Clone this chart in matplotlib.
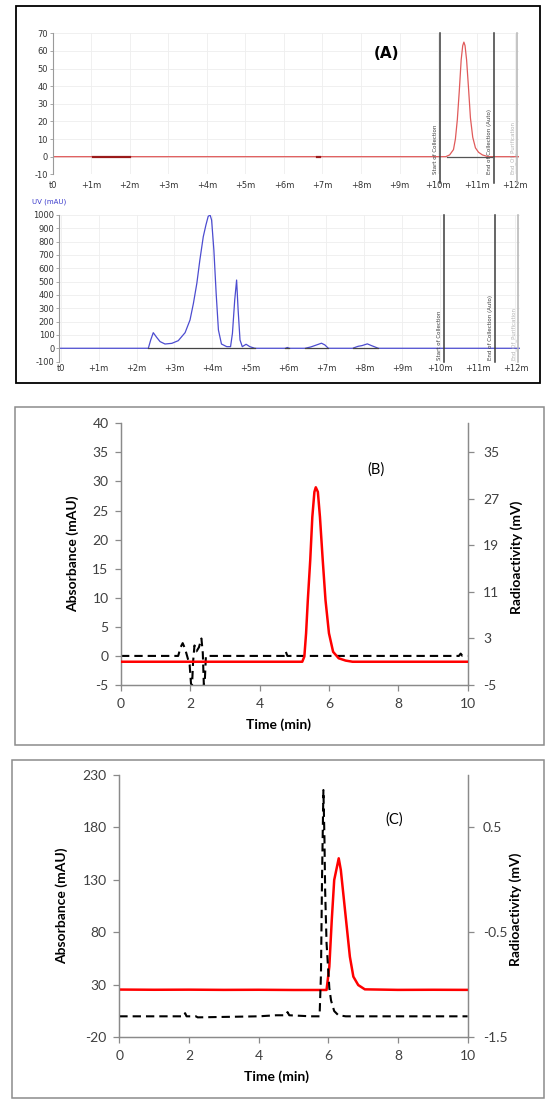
import matplotlib
matplotlib.use("Agg")
import matplotlib.pyplot as plt
from matplotlib.patches import Rectangle

plt.rcParams["axes.unicode_minus"] = False

W, H = 550, 1108

# ---------------- panel A (instrument screenshot) ----------------
minute_labels = ["t0"] + ["+%dm" % m for m in range(1, 13)]

# radio trace (top)
radio_a_t = [0, 10.20, 10.30, 10.40, 10.45, 10.50, 10.55, 10.60, 10.64, 10.67,
             10.70, 10.74, 10.79, 10.84, 10.90, 10.97, 11.05, 11.15, 11.30, 12.10]
radio_a_v = [0, 0, 1, 4, 10, 21, 37, 55, 63, 65,
             63, 55, 39, 22, 11, 5, 2.5, 1, 0, 0]
radio_a_base = [[10.22, 11.40]]
radio_a_marks = [[1.05, 2.0], [6.86, 6.94]]

# UV trace (bottom)
uv_t = [-0.04, 2.31, 2.37, 2.44, 2.53, 2.62, 2.75, 2.93, 3.10, 3.28, 3.41, 3.50,
        3.59, 3.67, 3.76, 3.83, 3.89, 3.94, 3.98, 4.04, 4.10, 4.16, 4.24, 4.38,
        4.48, 4.53, 4.59, 4.64, 4.68, 4.73, 4.79, 4.89, 4.99, 5.12, 5.93, 5.98,
        6.03, 6.45, 6.60, 6.75, 6.88, 6.97, 7.06, 7.70, 7.85, 7.95, 8.09, 8.20,
        8.38, 12.12]
uv_v = [0, 0, 60, 117, 82, 50, 32, 37, 57, 117, 212, 337,
        487, 662, 837, 925, 990, 1000, 962, 737, 412, 137, 32, 12,
        12, 112, 362, 512, 287, 62, 12, 30, 12, 0, 0, 6,
        0, 0, 10, 25, 38, 25, 0, 0, 15, 20, 33, 20,
        0, 0]
uv_base = [[2.31, 5.12], [5.93, 6.03], [6.45, 7.06], [7.70, 8.38]]

mark_names = ["Start of Collection", "End of Collection (Auto)", "End_Of_Purification"]
mark_colors = ["#3c3c3c", "#3c3c3c", "#b4b4b4"]
mark_t_top = [10.04, 11.46, 12.05]
mark_t_bottom = [10.11, 11.46, 12.07]

# ---------------- panel B ----------------
abs_b_t = [0, 5.23, 5.29, 5.34, 5.39, 5.46, 5.52, 5.58, 5.62, 5.68, 5.74, 5.82,
           5.90, 6.00, 6.12, 6.28, 6.48, 6.68, 10]
abs_b_v = [-1.0, -1.0, -0.1, 3.9, 9.6, 16.5, 23.9, 28.2, 29.0, 28.2, 23.9, 16.5,
           9.6, 3.9, 0.7, -0.4, -0.8, -1.0, -1.0]
rad_b_t = [0, 1.65, 1.72, 1.78, 1.85, 1.93, 1.98, 2.02, 2.05, 2.08, 2.12, 2.18,
           2.25, 2.32, 2.36, 2.39, 2.42, 2.45, 4.70, 4.75, 4.80, 9.75, 9.80, 9.85, 10]
rad_b_v = [0, 0, 1.5, 2.2, 1.2, -0.5, -1.5, -4.8, -5.0, -1.0, 1.8, 0.8,
           1.5, 3.0, 0.5, -5.0, -4.0, 0, 0, 0.8, 0, 0, 0.4, 0, 0]
b_left_ticks = [-5, 0, 5, 10, 15, 20, 25, 30, 35, 40]
b_right_ticks = [-5, 3, 11, 19, 27, 35]

# ---------------- panel C ----------------
abs_c_t = [0, 1, 2, 3, 4, 5, 5.95, 6.03, 6.10, 6.17, 6.24, 6.30, 6.36, 6.43,
           6.53, 6.62, 6.72, 6.86, 7.05, 8, 9, 10]
abs_c_v = [25.5, 25.3, 25.4, 25.2, 25.3, 25.1, 25.1, 47.3, 91.8, 129.9, 141, 150.6,
           139.5, 117.2, 85.4, 56.8, 37.8, 29.8, 25.7, 25.2, 25.3, 25.2]
rad_c_t = [0, 1.85, 1.89, 1.93, 2.20, 2.25, 4.00, 4.50, 4.78, 4.83, 4.88, 5.50,
           5.75, 5.79, 5.82, 5.86, 5.89, 5.91, 5.95, 6.03, 6.08, 6.17, 6.29, 6.50, 10]
rad_c_v = [-1.30, -1.30, -1.27, -1.30, -1.30, -1.31, -1.30, -1.29, -1.29, -1.26, -1.29, -1.30,
           -1.30, -0.90, 0.0, 0.857, 0.4, -0.1, -0.6, -1.03, -1.15, -1.25, -1.29, -1.30, -1.30]
c_left_ticks = [-20, 30, 80, 130, 180, 230]
c_right_ticks = [-1.5, -0.5, 0.5]


def axes_px(fig, left, top, right, bottom):
    return fig.add_axes([left / W, 1 - bottom / H, (right - left) / W, (bottom - top) / H])


def box_px(fig, left, top, right, bottom, color, lw):
    fig.add_artist(Rectangle((left / W, 1 - bottom / H), (right - left) / W, (bottom - top) / H,
                             transform=fig.transFigure, fill=False, edgecolor=color, linewidth=lw))


def style_screen_axes(ax, xlim, ylim, yticks, xpad):
    ax.set_xlim(xlim)
    ax.set_ylim(ylim)
    ax.set_xticks(range(13))
    ax.set_xticklabels(minute_labels)
    ax.set_yticks(yticks)
    for s in ["top", "right", "bottom"]:
        ax.spines[s].set_visible(False)
    ax.spines["left"].set_color("#9a9a9a")
    ax.spines["left"].set_linewidth(0.8)
    ax.grid(True, color="#eeeeee", lw=0.6)
    ax.set_axisbelow(True)
    ax.tick_params(axis="x", length=0, pad=xpad, labelsize=6, labelcolor="#333333")
    ax.tick_params(axis="y", length=2, width=0.6, pad=1.5, labelsize=6,
                   labelcolor="#333333", color="#9a9a9a")
    ax.patch.set_alpha(0)


def add_markers(ax, times, ybot, text_bot):
    tr = ax.get_xaxis_transform()
    for t, name, col in zip(times, mark_names, mark_colors):
        ax.plot([t, t], [ybot, 1], transform=tr, color=col, lw=1.1, clip_on=False)
        ax.text(t - 0.05, text_bot, name, transform=tr, rotation=90, fontsize=4.0,
                ha="right", va="bottom", color=col)


def style_lab_axes(ax, axr, xlabel_x, ylab_x, rlab_x):
    for a in (ax, axr):
        a.spines["top"].set_visible(False)
        for s in ["left", "right", "bottom"]:
            a.spines[s].set_color("#8a8a8a")
            a.spines[s].set_linewidth(0.9)
        a.tick_params(direction="out", length=4, width=0.9, color="#8a8a8a",
                      labelsize=10, labelcolor="#404040")
    ax.tick_params(axis="x", pad=5)
    ax.tick_params(axis="y", pad=5)
    axr.tick_params(axis="y", pad=7)
    ax.set_xlim(0, 10)
    ax.set_xticks(range(0, 11, 2))
    ax.set_xlabel("Time (min)", fontsize=10, fontweight="bold", family="Lato")
    ax.xaxis.set_label_coords(xlabel_x, -0.126)
    ax.set_ylabel("Absorbance (mAU)", fontsize=10, fontweight="bold", family="Lato")
    ax.yaxis.set_label_coords(ylab_x, 0.5)
    axr.set_ylabel("Radioactivity (mV)", fontsize=10, fontweight="bold", family="Lato")
    axr.yaxis.set_label_coords(rlab_x, 0.489)
    for lab in ax.get_xticklabels() + ax.get_yticklabels() + axr.get_yticklabels():
        lab.set_family("Lato")


fig = plt.figure(figsize=(W / 100, H / 100), dpi=100)

# ---- A top
ax1 = axes_px(fig, 52.6, 33.3, 519, 174.3)
style_screen_axes(ax1, (0, 12.1), (-10, 70), range(-10, 71, 10), 4.5)
ax1.plot(radio_a_t, radio_a_v, color="#e05a5a", lw=0.9)
for seg in radio_a_base:
    ax1.plot(seg, [0, 0], color="#555555", lw=0.9)
for seg in radio_a_marks:
    ax1.plot(seg, [0, 0], color="#9a1a1a", lw=1.6)
add_markers(ax1, mark_t_top, -0.06, 0.0)
fig.text(386.8 / W, 1 - 54 / H, "(A)", fontsize=11, fontweight="bold", ha="center", va="center")

# ---- A bottom
ax2 = axes_px(fig, 59.3, 215, 520, 361.6)
style_screen_axes(ax2, (-0.04, 12.12), (-100, 1000), range(-100, 1001, 100), 2)
ax2.plot(uv_t, uv_v, color="#4c4cd0", lw=0.9)
for seg in uv_base:
    ax2.plot(seg, [0, 0], color="#444444", lw=0.9)
add_markers(ax2, mark_t_bottom, 0.0, 0.01)
fig.text(49 / W, 1 - 202 / H, "UV (mAU)", fontsize=5, color="#3c3ccc", ha="center", va="center")

box_px(fig, 15.8, 6, 540, 383, "black", 1.3)

# ---- B
ax3 = axes_px(fig, 121, 423.3, 467.6, 685)
ax3r = ax3.twinx()
ax3.plot(abs_b_t, abs_b_v, color="#ff0000", lw=1.8, zorder=3)
ax3r.plot(rad_b_t, rad_b_v, color="black", lw=1.5, dashes=(4, 2.4))
ax3.set_ylim(-5, 40)
ax3.set_yticks(b_left_ticks)
ax3r.set_ylim(-5, 40)
ax3r.set_yticks(b_right_ticks)
style_lab_axes(ax3, ax3r, (278 - 121) / 346.6, (79 - 121) / 346.6, (510 - 121) / 346.6)
ax3.set_zorder(ax3r.get_zorder() + 1)
ax3.patch.set_visible(False)
fig.text(375.9 / W, 1 - 470 / H, "(B)", fontsize=10.5, family="Lato", ha="center", va="center")
box_px(fig, 14.7, 406.7, 543.7, 745, "#8c8c8c", 1.1)

# ---- C
ax4 = axes_px(fig, 119.3, 775, 467.6, 1037.3)
ax4r = ax4.twinx()
ax4.plot(abs_c_t, abs_c_v, color="#ff0000", lw=1.8, zorder=3)
ax4r.plot(rad_c_t, rad_c_v, color="black", lw=1.5, dashes=(4, 2.4))
ax4.set_ylim(-20, 230)
ax4.set_yticks(c_left_ticks)
ax4r.set_ylim(-1.5, 1.0)
ax4r.set_yticks(c_right_ticks)
style_lab_axes(ax4, ax4r, (277 - 119.3) / 348.3, (68.4 - 119.3) / 348.3, (509 - 119.3) / 348.3)
fig.text(393.8 / W, 1 - 820 / H, "(C)", fontsize=10.5, family="Lato", ha="center", va="center")
box_px(fig, 12.3, 760, 543.7, 1098.3, "#8c8c8c", 1.1)

fig.savefig("out.png", dpi=100)
